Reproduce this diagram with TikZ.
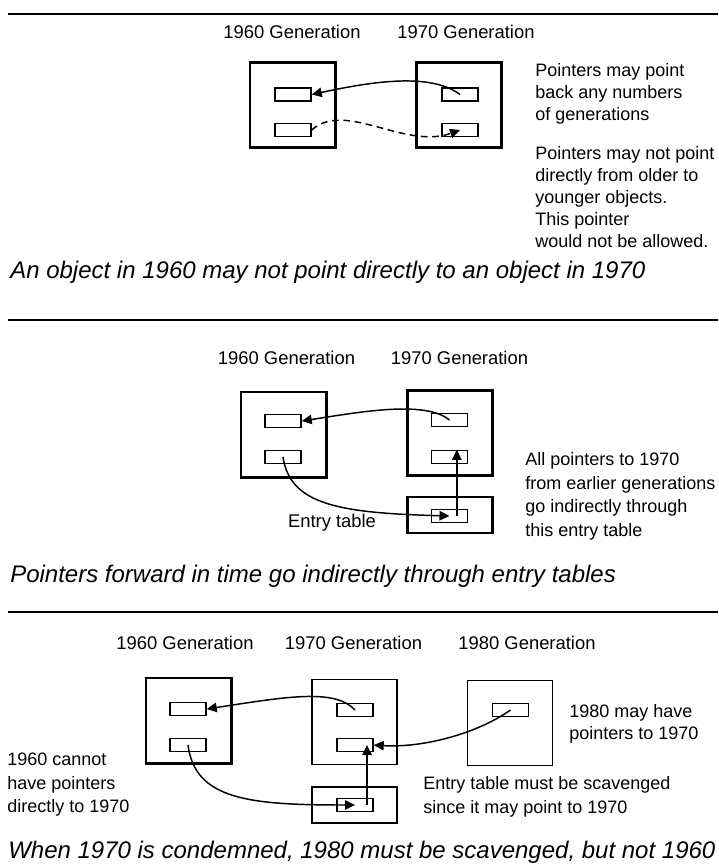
\documentclass[tikz,border=0pt]{standalone}
\usepackage{fontspec}
\setmainfont{Liberation Sans}
\usetikzlibrary{arrows.meta}

\begin{document}
\begin{tikzpicture}[x=0.75pt, y=0.75pt,
    generation/.style={draw, line width=2pt, minimum width=64pt, minimum height=64pt, inner sep=0pt},
    lightgen/.style={generation, line width=1.1pt},
    entrybox/.style={draw, line width=2pt, minimum width=64pt, minimum height=27pt, inner sep=0pt},
    lightentry/.style={entrybox, line width=1.1pt},
    object/.style={draw, line width=1.1pt, minimum width=27pt, minimum height=9.75pt, inner sep=0pt},
    pointer/.style={line width=1.1pt, -{Triangle[length=7.5pt,width=7pt]}},
    forbidden/.style={pointer, dash pattern=on 5pt off 3.5pt},
    genlabel/.style={font=\fontsize{13.8}{16}\selectfont, inner sep=0pt},
    remark/.style={font=\fontsize{13.5}{#1}\selectfont, align=left, anchor=north west, inner sep=0pt},
    remark/.default=17pt,
    caption/.style={font=\fontsize{18}{21}\selectfont\itshape, anchor=west, inner sep=0pt},
    divider/.style={line width=2pt}]

  \useasboundingbox (0,0) rectangle (718,-867);

  % ---- Panel a: pointers back in time only
  \draw[divider] (8,-14) -- (718,-14);
  \node[genlabel] (lab60a) at (292,-32) {1960 Generation};
  \node[genlabel] (lab70a) at (466,-32) {1970 Generation};

  \node[generation] (gen60a) at (292.5,-105) {};
  \node[generation] (gen70a) at (459,-105) {};
  \node[object] (obj60a1) at (293,-94.5) {};
  \node[object] (obj60a2) at (293,-130) {};
  \node[object] (obj70a1) at (460,-94.5) {};
  \node[object] (obj70a2) at (460,-130) {};

  \draw[pointer] (obj70a1.center) .. controls (430,-72) and (370,-82) .. (obj60a1.east);
  \draw[forbidden] (obj60a2.east) .. controls (345,-100) and (405,-150) .. (obj70a2.center);

  \node[remark=16.5pt] (backnote) at (535,-63) {Pointers may point\\back any numbers\\of generations};
  \node[remark=16.5pt] (fwdnote) at (535,-146) {Pointers may not point\\directly from older to\\younger objects.\\This pointer\\would not be allowed.};
  \node[caption] (capa) at (10,-272) {An object in 1960 may not point directly to an object in 1970};

  % ---- Panel b: entry table
  \draw[divider] (8,-320) -- (718,-320);
  \node[genlabel] (lab60b) at (286.5,-358) {1960 Generation};
  \node[genlabel] (lab70b) at (459.5,-358) {1970 Generation};

  \node[generation] (gen60b) at (283.5,-434.5) {};
  \node[generation] (gen70b) at (450,-433) {};
  \node[entrybox] (entryb) at (450,-515) {};
  \node[object] (obj60b1) at (283,-421) {};
  \node[object] (obj60b2) at (283,-457) {};
  \node[object] (obj70b1) at (449.5,-420) {};
  \node[object] (obj70b2) at (449.5,-457) {};
  \node[object] (slotb) at (449.5,-516) {};

  \draw[pointer] (obj70b1.center) .. controls (425,-400) and (360,-412) .. (obj60b1.east);
  \draw[pointer] (obj60b2.center) .. controls (290,-505) and (340,-513) .. (slotb.center);
  \draw[pointer] ([xshift=5.5pt]slotb.center) -- ([xshift=5.5pt]obj70b2.north);

  \node[genlabel] (entrylab) at (332,-523) {Entry table};
  \node[remark=17.8pt] (indirnote) at (525,-452) {All pointers to 1970\\from earlier generations\\go indirectly through\\this entry table};
  \node[caption] (capb) at (10,-576) {Pointers forward in time go indirectly through entry tables};

  % ---- Panel c: condemning 1970
  \draw[divider] (8,-612) -- (718,-612);
  \node[genlabel] (lab60c) at (185,-643) {1960 Generation};
  \node[genlabel] (lab70c) at (353.5,-643) {1970 Generation};
  \node[genlabel] (lab80c) at (527,-643) {1980 Generation};

  \node[generation] (gen60c) at (188.5,-720.5) {};
  \node[lightgen] (gen70c) at (354.5,-722) {};
  \node[lightgen] (gen80c) at (510,-723) {};
  \node[lightentry] (entryc) at (354.5,-805) {};
  \node[object] (obj60c1) at (188,-709) {};
  \node[object] (obj60c2) at (188,-745) {};
  \node[object] (obj70c1) at (355,-710) {};
  \node[object] (obj70c2) at (355,-745) {};
  \node[object] (obj80c) at (510.5,-710) {};
  \node[object] (slotc) at (355,-805) {};

  \draw[pointer] (obj70c1.center) .. controls (335,-688) and (285,-697) .. (obj60c1.east);
  \draw[pointer] (obj60c2.center) .. controls (195,-800) and (250,-805) .. (slotc.center);
  \draw[pointer] ([xshift=9pt]slotc.center) -- ([xshift=9pt]obj70c2.center);
  \draw[pointer] (obj80c.center) .. controls (475,-735) and (420,-748) .. (obj70c2.east);

  \node[remark=17.6pt] (oldnote) at (7,-753) {1960 cannot\\have pointers\\directly to 1970};
  \node[remark=16.5pt] (newnote) at (569,-704) {1980 may have\\pointers to 1970};
  \node[remark=18pt] (scavnote) at (423,-776) {Entry table must be scavenged\\since it may point to 1970};
  \node[caption] (capc) at (8,-852) {When 1970 is condemned, 1980 must be scavenged, but not 1960};

\end{tikzpicture}
\end{document}
